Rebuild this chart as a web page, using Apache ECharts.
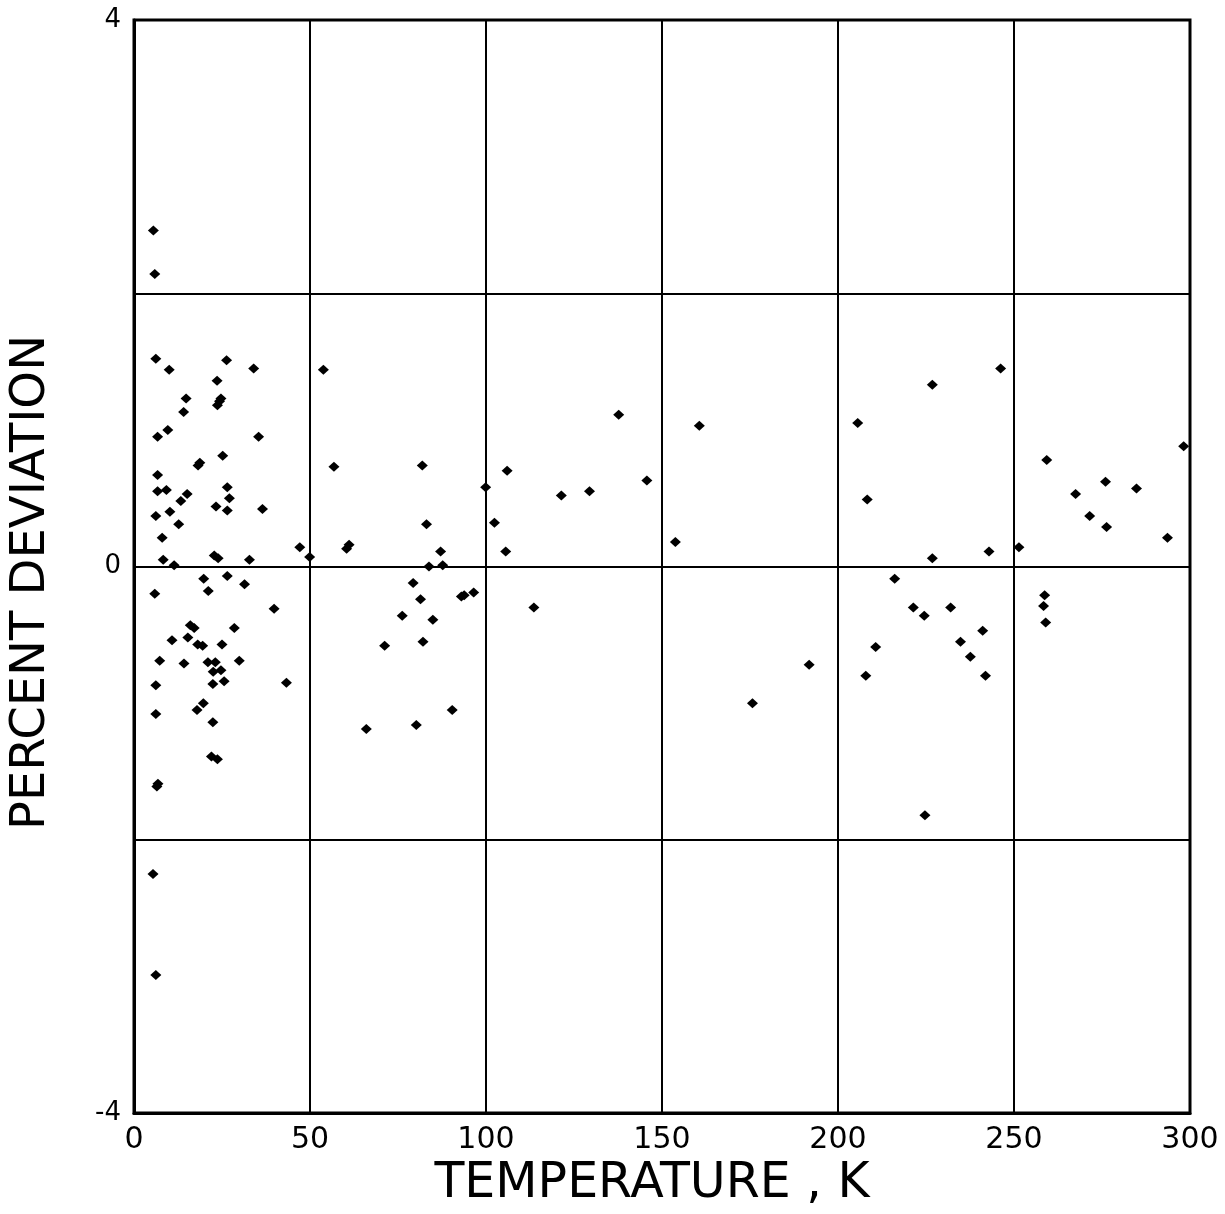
<!DOCTYPE html>
<html>
<head>
<meta charset="utf-8">
<script src="https://cdn.jsdelivr.net/npm/echarts@6/dist/echarts.min.js"></script>
<style>
html,body{margin:0;padding:0;background:#fff;}
#chart{width:1225px;height:1214px;}
</style>
</head>
<body>
<div id="chart"></div>
<script>
// Temperature (K) of each measurement
var temperature = [
  5.5, 5.9, 6.2, 10.0, 26.3, 34.0, 23.6, 14.8, 23.7, 24.3, 24.7, 14.1, 9.6, 6.7, 35.4, 25.2,
  18.7, 18.2, 6.7, 6.7, 9.2, 26.5, 15.1, 27.1, 13.3, 23.3, 26.5, 36.5, 6.2, 10.2, 12.7, 8.0,
  47.1, 8.3, 11.4, 22.8, 23.9, 32.8, 49.9,
  19.8, 26.5, 31.4, 5.9, 21.1, 39.8, 16.0, 17.1, 28.5, 10.8, 15.3, 18.1, 19.5, 25.0, 7.3,
  14.2, 21.0, 23.1, 29.9, 22.5, 24.7, 25.6, 22.4, 6.2, 43.3, 19.7, 17.9, 6.2, 22.4, 22.0,
  23.7, 6.8, 6.5, 5.4, 6.2,
  53.8, 56.8, 81.9, 106.0, 99.9, 102.4, 83.1, 60.4, 61.1, 87.1, 105.6, 83.8, 87.7, 79.3,
  93.0, 93.8, 96.5, 81.4, 76.2, 84.9, 71.2, 82.1, 90.4, 66.0, 80.2, 113.6,
  121.4, 129.4, 137.7, 145.7, 160.6, 153.8, 175.7, 191.8,
  246.2, 226.8, 205.6, 208.3, 226.8, 242.9, 251.4, 216.1, 221.4, 224.5, 232.0, 241.1,
  234.8, 237.6, 241.9, 210.7, 207.9, 224.7,
  259.3, 267.5, 276.0, 271.5, 276.3, 284.8, 293.6, 298.2, 258.7, 258.4, 259.0
];
// Percent deviation of each measurement
var deviation = [
  2.46, 2.14, 1.52, 1.44, 1.51, 1.45, 1.36, 1.23, 1.18, 1.21, 1.23, 1.13, 1.00, 0.95, 0.95, 0.81,
  0.76, 0.74, 0.67, 0.55, 0.56, 0.58, 0.53, 0.50, 0.48, 0.44, 0.41, 0.42, 0.37, 0.40, 0.31, 0.21,
  0.14, 0.05, 0.01, 0.08, 0.06, 0.05, 0.07,
  -0.09, -0.07, -0.13, -0.20, -0.18, -0.31, -0.43, -0.45, -0.45, -0.54, -0.52, -0.57, -0.58, -0.57, -0.69,
  -0.71, -0.70, -0.70, -0.69, -0.77, -0.76, -0.84, -0.86, -0.87, -0.85, -1.00, -1.05, -1.08, -1.14, -1.39,
  -1.41, -1.59, -1.61, -2.25, -2.99,
  1.44, 0.73, 0.74, 0.70, 0.58, 0.32, 0.31, 0.13, 0.16, 0.11, 0.11, 0.00, 0.01, -0.12,
  -0.22, -0.21, -0.19, -0.24, -0.36, -0.39, -0.58, -0.55, -1.05, -1.19, -1.16, -0.30,
  0.52, 0.55, 1.11, 0.63, 1.03, 0.18, -1.00, -0.72,
  1.45, 1.33, 1.05, 0.49, 0.06, 0.11, 0.14, -0.09, -0.30, -0.36, -0.30, -0.47,
  -0.55, -0.66, -0.80, -0.59, -0.80, -1.82,
  0.78, 0.53, 0.62, 0.37, 0.29, 0.57, 0.21, 0.88, -0.21, -0.29, -0.41
];
// Tick labels
var xTickLabels = ['0', '50', '100', '150', '200', '250', '300'];
var yTickLabels = {'4': '4', '0': '0', '-4': '-4'};

var points = temperature.map(function (t, i) { return [t, deviation[i]]; });

var chart = echarts.init(document.getElementById('chart'));
var font = 'DejaVu Sans';
chart.setOption({
  animation: false,
  backgroundColor: '#fff',
  grid: {
    left: 133, right: 35, top: 20, bottom: 95,
    show: true, borderColor: '#000', borderWidth: 3, backgroundColor: 'transparent'
  },
  xAxis: {
    type: 'value', min: 0, max: 300, interval: 50,
    name: 'TEMPERATURE , K', nameLocation: 'middle', nameGap: 47,
    nameTextStyle: { fontFamily: font, fontSize: 49, color: '#000', padding: [0, 20, 0, 0] },
    axisLine: { show: true, onZero: false, lineStyle: { color: '#000', width: 3 } },
    axisTick: { show: false },
    splitLine: { show: true, lineStyle: { color: '#000', width: 2 } },
    axisLabel: {
      margin: 12, fontFamily: font, fontSize: 30, color: '#000',
      formatter: function (v) { return xTickLabels[Math.round(v / 50)]; }
    }
  },
  yAxis: {
    type: 'value', min: -4, max: 4, interval: 2,
    name: 'PERCENT DEVIATION', nameLocation: 'middle', nameGap: 78, nameRotate: 90,
    nameTextStyle: { fontFamily: font, fontSize: 48, color: '#000', padding: [0, 32, 0, 0] },
    axisLine: { show: true, onZero: false, lineStyle: { color: '#000', width: 3 } },
    axisTick: { show: false },
    splitLine: { show: true, lineStyle: { color: '#000', width: 2 } },
    axisLabel: {
      margin: 13, fontFamily: font, fontSize: 26, color: '#000',
      formatter: function (v) { var k = String(v); return yTickLabels[k] !== undefined ? yTickLabels[k] : ''; }
    }
  },
  series: [{
    type: 'scatter',
    data: points,
    symbol: 'diamond',
    symbolSize: [11, 10],
    itemStyle: { color: '#000', opacity: 1 },
    z: 5
  }]
});
</script>
</body>
</html>
